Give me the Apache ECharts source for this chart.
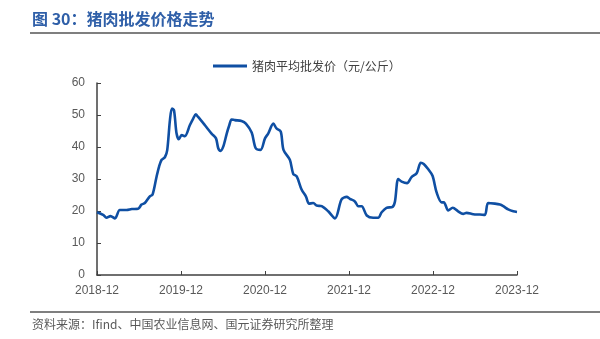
<!DOCTYPE html>
<html><head><meta charset="utf-8">
<script src="https://cdn.jsdelivr.net/npm/echarts@6/dist/echarts.min.js"></script>
<style>html,body{margin:0;padding:0;background:#fff}#c{width:600px;height:339px}</style>
</head><body><div id="c"></div>
<script>
const seriesName = '猪肉平均批发价（元/公斤）';
const tickLabels = ['2018-12','2019-12','2020-12','2021-12','2022-12','2023-12'];
const dates = ['2018-12-01','2018-12-28','2019-01-12','2019-01-30','2019-02-17','2019-03-09','2019-04-08','2019-04-30','2019-05-28','2019-06-12','2019-06-26','2019-07-18','2019-07-30','2019-08-17','2019-08-28','2019-09-08','2019-09-22','2019-10-02','2019-10-14','2019-10-23','2019-11-01','2019-11-12','2019-11-22','2019-12-04','2019-12-18','2020-01-09','2020-01-24','2020-02-04','2020-02-14','2020-03-14','2020-04-12','2020-05-01','2020-05-11','2020-05-21','2020-06-02','2020-06-17','2020-06-28','2020-07-08','2020-07-23','2020-08-21','2020-09-09','2020-10-04','2020-10-22','2020-11-12','2020-12-01','2020-12-15','2021-01-07','2021-01-21','2021-02-08','2021-02-19','2021-03-18','2021-04-02','2021-04-17','2021-05-08','2021-05-27','2021-06-10','2021-06-28','2021-07-13','2021-08-04','2021-09-02','2021-10-01','2021-10-30','2021-11-21','2021-12-05','2021-12-27','2022-01-11','2022-01-26','2022-02-16','2022-03-15','2022-04-06','2022-04-21','2022-05-12','2022-06-08','2022-06-18','2022-07-02','2022-07-17','2022-08-10','2022-08-30','2022-09-21','2022-10-09','2022-10-22','2022-11-10','2022-11-29','2022-12-17','2023-01-08','2023-01-18','2023-02-06','2023-02-24','2023-03-19','2023-04-10','2023-04-25','2023-05-24','2023-06-22','2023-07-14','2023-07-28','2023-08-27','2023-09-18','2023-10-02','2023-10-24','2023-11-15','2023-12-01'];
const prices = [19.6,18.8,17.9,18.4,17.7,20.3,20.3,20.6,20.7,22.0,22.5,24.6,25.1,30.8,33.9,36.0,36.8,39.0,48.4,52.0,51.5,44.2,42.4,43.7,43.4,46.8,48.9,50.2,49.4,46.8,44.2,42.7,39.6,38.8,40.1,44.2,46.8,48.6,48.4,48.1,47.3,44.5,39.6,39.1,42.7,44.2,47.3,45.8,44.8,39.1,36.0,31.6,30.8,26.7,24.6,22.3,22.5,21.7,21.5,19.9,17.7,23.6,24.4,23.8,23.0,21.5,21.5,18.6,17.9,17.9,19.6,21.0,21.3,23.0,30.0,29.2,28.7,30.6,31.8,35.1,34.7,33.1,31.0,25.8,22.7,22.7,20.2,21.0,19.9,19.1,19.4,19.0,18.9,18.8,22.5,22.3,22.0,21.5,20.5,19.9,19.7];

function monthOffset(s){
  const [y,m,d] = s.split('-').map(Number);
  const dim = new Date(y, m, 0).getDate();
  return (y-2018)*12 + (m-12) + (d-1)/dim;
}
const data = dates.map((d,i)=>[monthOffset(d), prices[i]]);

const chart = echarts.init(document.getElementById('c'));
const axisColor = '#404040';
const labelColor = '#595959';
chart.setOption({
  animation:false,
  backgroundColor:'#fff',
  graphic:[
    {type:'text',left:32,top:11,style:{text:'图 30：猪肉批发价格走势',fill:'#2F5FA8',font:'bold 16px "Noto Sans CJK SC", sans-serif'}},
    {type:'line',shape:{x1:30,y1:33,x2:600,y2:33},style:{stroke:'#7f7f7f',lineWidth:2}},
    {type:'line',shape:{x1:30,y1:312,x2:600,y2:312},style:{stroke:'#7f7f7f',lineWidth:2}},
    {type:'text',left:32,top:318,style:{text:'资料来源：Ifind、中国农业信息网、国元证券研究所整理',fill:'#595959',font:'12px "Noto Sans CJK SC", sans-serif'}}
  ],
  legend:{
    top:55,left:208,
    itemWidth:34,itemHeight:3,itemGap:4,
    icon:'rect',
    textStyle:{color:'#404040',fontSize:12,fontFamily:'"Noto Sans CJK SC", sans-serif'},
    data:[seriesName]
  },
  grid:{left:97,right:83,top:83,bottom:64},
  xAxis:{
    type:'value',min:0,max:60,interval:12,
    axisLine:{lineStyle:{color:axisColor,width:1.5}},
    axisTick:{inside:true,length:4,lineStyle:{color:axisColor}},
    splitLine:{show:false},
    axisLabel:{color:labelColor,fontSize:12,fontFamily:'"Liberation Sans", Arial, sans-serif',margin:10,
      formatter:(v)=>tickLabels[Math.round(v/12)]}
  },
  yAxis:{
    type:'value',min:0,max:60,interval:10,
    axisLine:{show:true,lineStyle:{color:axisColor,width:1.5}},
    axisTick:{show:true,inside:true,length:4,lineStyle:{color:axisColor}},
    splitLine:{show:false},
    axisLabel:{color:labelColor,fontSize:12,fontFamily:'"Liberation Sans", Arial, sans-serif',margin:12}
  },
  series:[{
    name:seriesName,type:'line',data:data,smooth:0.3,symbol:'none',
    lineStyle:{color:'#0F4FA3',width:2.6},itemStyle:{color:'#0F4FA3'}
  }]
});
</script></body></html>
